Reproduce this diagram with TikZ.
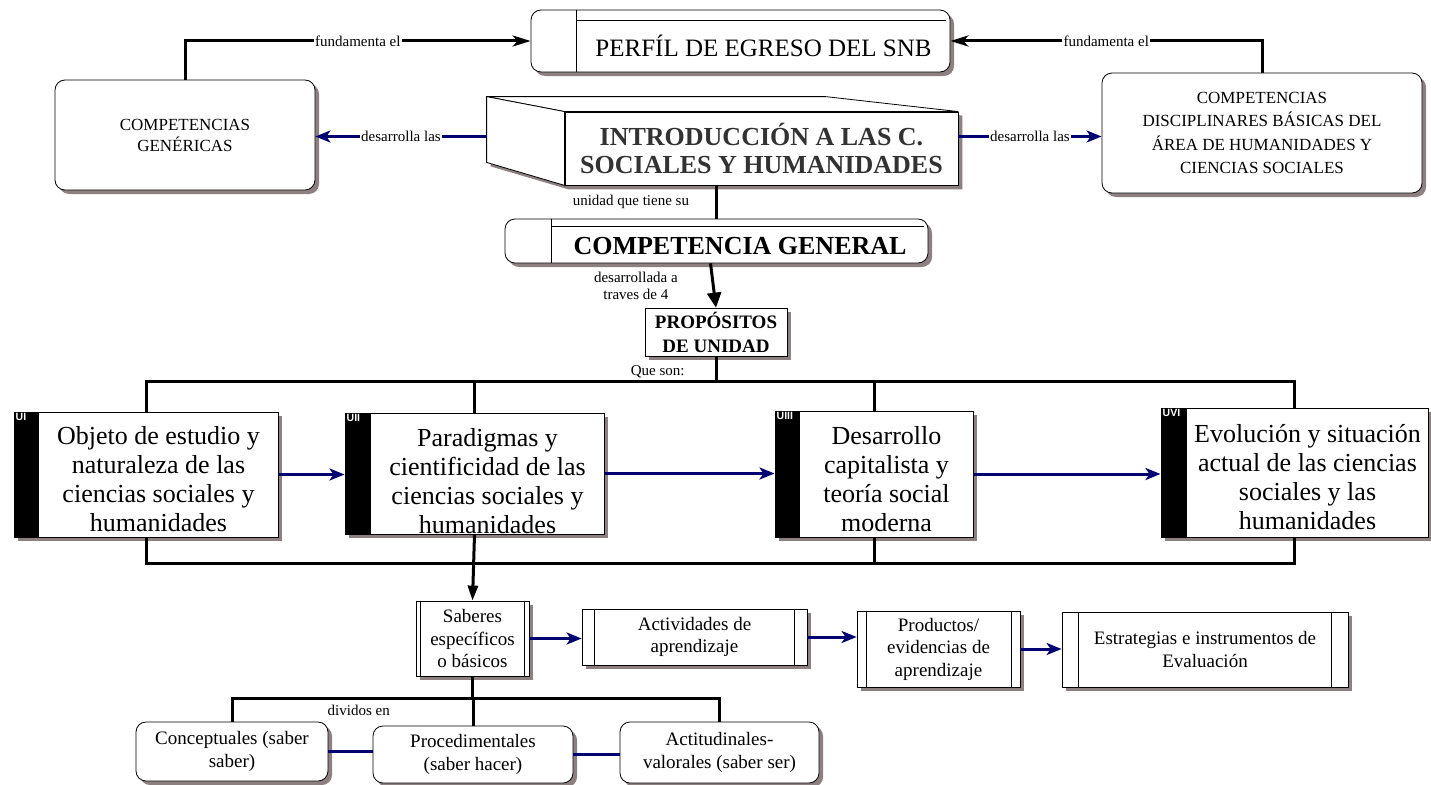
\documentclass[tikz,border=0pt]{standalone}
\usepackage{fontspec}
\setmainfont{Liberation Serif}
\newfontfamily\unitsans{Liberation Sans}
\usetikzlibrary{arrows.meta,shadows}
\definecolor{navyc}{RGB}{0,0,115}
\definecolor{shgray}{RGB}{140,128,128}
\definecolor{introgray}{RGB}{50,50,50}
\newcommand\fsz[2]{\fontsize{#1}{#2}\selectfont}
\pgfdeclarelayer{bg}
\pgfsetlayers{bg,main}
\begin{document}
\begin{tikzpicture}[x=1pt,y=-1pt,
  shd/.style={general shadow={fill=shgray,shadow xshift=4pt,shadow yshift=-4pt}},
  box/.style={draw=black,line width=0.8pt,fill=white,inner sep=0pt,align=center,shd},
  rbox/.style={box,rounded corners=10pt},
  lbl/.style={font=\fsz{15}{17},fill=white,inner sep=1.5pt},
  plain/.style={font=\fsz{15}{17},inner sep=0pt,align=center},
  bk/.style={line width=3pt,draw=black},
  nv/.style={line width=3pt,draw=navyc},
  bkt/.style={-{Stealth[length=18pt,width=11pt,inset=5pt]}},
  nvt/.style={-{Stealth[length=15pt,width=12pt,inset=4pt]}},
  trit/.style={-{Triangle[length=15pt,width=14pt]}},
  utext/.style={font=\fsz{26}{29},align=center,inner sep=0pt},
  ulab/.style={anchor=north west,text=white,font=\unitsans\bfseries\fsz{10.5}{10.5},inner sep=2pt},
  med/.style={font=\fsz{19}{22.5}},
  thin/.style={line width=0.8pt}]
\useasboundingbox (0,0) rectangle (1431,784);

% ---------- top row ----------
\node[rbox,minimum width=260pt,minimum height=110pt,font=\fsz{17}{21}] (cg) at (185,135) {COMPETENCIAS\\GENÉRICAS};

\node[rbox,minimum width=419pt,minimum height=62pt] (perfil) at (740.5,41) {};
\draw[thin] ([xshift=46pt]perfil.north west) -- ([xshift=46pt]perfil.south west);
\draw[thin] ([xshift=46pt,yshift=-11pt]perfil.north west) -- ([xshift=-4pt,yshift=-11pt]perfil.north east);
\node[font=\fsz{25}{28},inner sep=0pt] (perfilt) at (763.5,46) {PERFÍL DE EGRESO DEL SNB};

\node[rbox,minimum width=320pt,minimum height=120pt,font=\fsz{17}{23.5}] (disc) at (1262,133) {COMPETENCIAS\\DISCIPLINARES BÁSICAS DEL\\ÁREA DE HUMANIDADES Y\\CIENCIAS SOCIALES};

% ---------- INTRO 3D box ----------
\node[draw=black,line width=0.8pt,fill=white,inner sep=0pt,minimum width=393pt,minimum height=73pt,
      align=center,font=\bfseries\fsz{26}{28},text=introgray] (intro) at (761.5,148.5) {INTRODUCCIÓN A LAS C.\\SOCIALES Y HUMANIDADES};
\coordinate (iTL) at ([shift={(-78pt,15pt)}]intro.north west);
\coordinate (iBL) at ([shift={(-78pt,23pt)}]intro.south west);
\coordinate (iTR) at ([shift={(-133pt,15pt)}]intro.north east);
\coordinate (introL) at ([shift={(-78pt,12pt)}]intro.west);
\begin{pgfonlayer}{bg}
  \fill[shgray] ([shift={(4pt,-4pt)}]iTL) -- ([shift={(4pt,-4pt)}]iBL) -- ([shift={(4pt,-4pt)}]intro.south west)
     -- ([shift={(4pt,-4pt)}]intro.south east) -- ([shift={(4pt,-4pt)}]intro.north east) -- ([shift={(4pt,-4pt)}]iTR) -- cycle;
\end{pgfonlayer}
\draw[thin,fill=white] (iTL) -- (iTR) -- (intro.north east) -- (intro.north west) -- cycle;
\draw[thin,fill=white] (iTL) -- (intro.north west) -- (intro.south west) -- (iBL) -- cycle;

% ---------- competencia general ----------
\node[rbox,minimum width=423pt,minimum height=44pt] (cgen) at (716.5,241) {};
\draw[thin] ([xshift=47pt]cgen.north west) -- ([xshift=47pt]cgen.south west);
\draw[thin] ([xshift=47pt,yshift=-8pt]cgen.north west) -- ([xshift=-4pt,yshift=-8pt]cgen.north east);
\node[font=\bfseries\fsz{26}{28},inner sep=0pt] (cgent) at (740,246) {COMPETENCIA GENERAL};

\node[box,minimum width=142pt,minimum height=48pt,font=\bfseries\fsz{19}{24}] (prop) at (716,332) {PROPÓSITOS\\DE UNIDAD};

% ---------- units ----------
\node[box,line width=1pt,minimum width=264pt,minimum height=125pt] (u1) at (146,474.5) {};
\node[box,line width=1pt,minimum width=259pt,minimum height=121pt] (u2) at (474.5,473.5) {};
\node[box,line width=1pt,minimum width=198pt,minimum height=126pt] (u3) at (874,474) {};
\node[box,line width=1pt,minimum width=267pt,minimum height=129pt] (u4) at (1294.5,472.5) {};
\fill (u1.north west) rectangle ([xshift=25pt]u1.south west);
\fill (u2.north west) rectangle ([xshift=26pt]u2.south west);
\fill (u3.north west) rectangle ([xshift=25pt]u3.south west);
\fill (u4.north west) rectangle ([xshift=26pt]u4.south west);
\node[ulab] (u1l) at (u1.north west) {UI};
\node[ulab] (u2l) at (u2.north west) {UII};
\node[ulab] (u3l) at (u3.north west) {UIII};
\node[ulab] (u4l) at (u4.north west) {UVI};
\node[utext] (u1t) at ([xshift=12.5pt,yshift=-5pt]u1.center) {Objeto de estudio y\\naturaleza de las\\ciencias sociales y\\humanidades};
\node[utext] (u2t) at ([xshift=13pt,yshift=-8pt]u2.center) {Paradigmas y\\cientificidad de las\\ciencias sociales y\\humanidades};
\node[utext] (u3t) at ([xshift=12.5pt,yshift=-5pt]u3.center) {Desarrollo\\capitalista y\\teoría social\\moderna};
\node[utext] (u4t) at ([xshift=13pt,yshift=-5pt]u4.center) {Evolución y situación\\actual de las ciencias\\sociales y las\\humanidades};

% ---------- bottom boxes ----------
\node[box,minimum width=113pt,minimum height=75pt,med] (sab) at (472.5,638.5) {Saberes\\específicos\\o básicos};
\draw[thin] ([xshift=5pt]sab.north west) -- ([xshift=5pt]sab.south west);
\draw[thin] ([xshift=-5pt]sab.north east) -- ([xshift=-5pt]sab.south east);
\node[box,minimum width=225pt,minimum height=56pt,med] (act) at (694.5,637) {Actividades de\\aprendizaje};
\draw[thin] ([xshift=13pt]act.north west) -- ([xshift=13pt]act.south west);
\draw[thin] ([xshift=-13pt]act.north east) -- ([xshift=-13pt]act.south east);
\node[box,minimum width=163pt,minimum height=76pt,med] (prod) at (938.5,649) {Productos/\\evidencias de\\aprendizaje};
\draw[thin] ([xshift=10pt]prod.north west) -- ([xshift=10pt]prod.south west);
\draw[thin] ([xshift=-9pt]prod.north east) -- ([xshift=-9pt]prod.south east);
\node[box,minimum width=286pt,minimum height=75pt,med] (est) at (1205,649.5) {Estrategias e instrumentos de\\Evaluación};
\draw[thin] ([xshift=17pt]est.north west) -- ([xshift=17pt]est.south west);
\draw[thin] ([xshift=-17pt]est.north east) -- ([xshift=-17pt]est.south east);

\node[rbox,minimum width=192pt,minimum height=59pt,med] (conc) at (232,751.5) {Conceptuales (saber\\saber)};
\node[rbox,minimum width=200pt,minimum height=57pt,med] (proc) at (473,754.5) {Procedimentales\\(saber hacer)};
\node[rbox,minimum width=199pt,minimum height=61pt,med] (acti) at (719.5,752.5) {Actitudinales-\\valorales (saber ser)};

% ---------- connectors ----------
\draw[bk,bkt] (cg.north) |- node[lbl,pos=0.75] (l1) {fundamenta el} (perfil.west);
\draw[bk,bkt] (disc.north) |- node[lbl,pos=0.75] (l2) {fundamenta el} (perfil.east);
\draw[nv,nvt] (introL) -- node[lbl] (l3) {desarrolla las} (cg.east |- introL);
\draw[nv,nvt] (intro.east |- introL) -- node[lbl] (l4) {desarrolla las} (disc.west |- introL);
\draw[bk] (intro.south -| cgen.north) -- node[plain,left=26pt] (l5) {unidad que tiene su} (cgen.north);
\draw[bk,trit] ([xshift=-6pt]cgen.south) -- node[plain,left=34pt] (l6) {desarrollada a\\traves de 4} (prop.north);

\coordinate (topbus) at (716,381);
\coordinate (botbus) at (716,563);
\draw[bk] (u1.north) |- (u4.north |- topbus) -- (u4.north);
\draw[bk] (u2.north) -- (u2.north |- topbus);
\draw[bk] (u3.north) -- (u3.north |- topbus);
\draw[bk] (prop.south) -- node[plain,pos=0.64,left=30pt] (l7) {Que son:} (prop.south |- topbus);
\draw[bk] (u1.south) |- (u4.south |- botbus) -- (u4.south);
\draw[bk] (u3.south) -- (u3.south |- botbus);
\draw[bk,-{Triangle[length=15pt,width=10pt]}] (u2.south) -- (sab.north);

\draw[nv,nvt] (u1.east) -- (u1.east -| u2.west);
\draw[nv,nvt] (u2.east) -- (u2.east -| u3.west);
\draw[nv,nvt] (u3.east) -- (u3.east -| u4.west);

\draw[nv,nvt] (sab.east) -- (sab.east -| act.west);
\draw[nv,nvt] (act.east) -- (act.east -| prod.west);
\draw[nv,nvt] (prod.east) -- (prod.east -| est.west);

\coordinate (sbus) at (473,698);
\draw[bk] (sab.south) -- (sab.south |- sbus);
\draw[bk] (conc.north) |- node[plain,pos=0.63,below=6pt] (l8) {dividos en} (acti.north |- sbus) -- (acti.north);
\draw[bk] (proc.north) -- (proc.north |- sbus);
\draw[nv] (conc.east) -- (conc.east -| proc.west);
\draw[nv] (proc.east) -- (proc.east -| acti.west);
\end{tikzpicture}
\end{document}
